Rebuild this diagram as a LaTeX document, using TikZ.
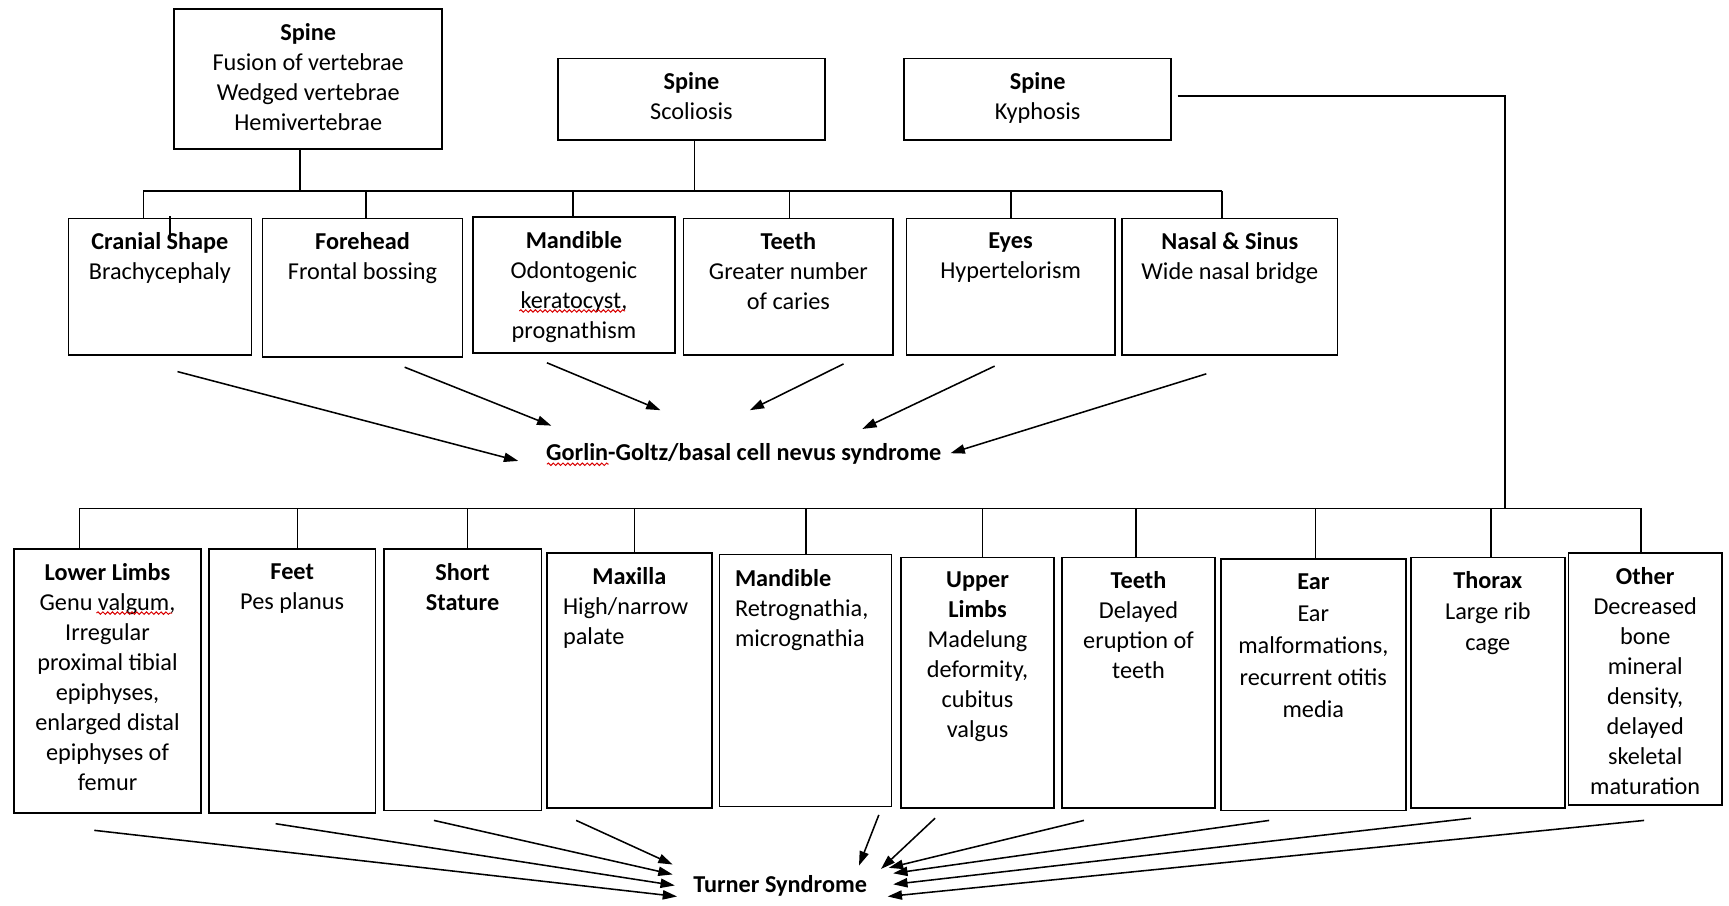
\documentclass[tikz,border=0pt]{standalone}
\usepackage{fontspec}
\setmainfont{Carlito}
\usetikzlibrary{arrows.meta,decorations.pathmorphing,fit}
\begin{document}
\begin{tikzpicture}[x=0.5pt,y=-0.5pt,
  box/.style={draw, line width=0.75pt, inner sep=0pt},
  txt/.style={align=center, inner sep=0pt, anchor=north, font=\fontsize{11}{13.6}\selectfont},
  ltxt/.style={align=left, inner sep=0pt, anchor=north west, font=\fontsize{11}{13.6}\selectfont},
  conn/.style={line width=0.7pt},
  arr/.style={line width=0.7pt, -{Triangle[length=6.5pt,width=4.2pt]}},
  squiggle/.style={red!85!black, line width=0.45pt, decorate,
    decoration={snake, amplitude=0.55pt, segment length=2.2pt}}]
\useasboundingbox (0,0) rectangle (1568,821);

% ---- spine boxes ----
\node[box, fit={(158,8)(401,135)}] (sp1) {};
\node[box, fit={(506,53)(748,127)}] (sp2) {};
\node[box, fit={(820,53)(1062,127)}] (sp3) {};
\node[txt] at ([yshift=-6.7pt]sp1.north) {\textbf{Spine}\\Fusion of vertebrae\\Wedged vertebrae\\Hemivertebrae};
\node[txt] at ([yshift=-6.7pt]sp2.north) {\textbf{Spine}\\Scoliosis};
\node[txt] at ([yshift=-6.7pt]sp3.north) {\textbf{Spine}\\Kyphosis};

% ---- craniofacial findings ----
\node[box, fit={(62,198)(228,322)}] (cra) {};
\node[box, fit={(238,198)(419.5,323.5)}] (fore) {};
\node[box, fit={(429,196.5)(612,320)}] (mand) {};
\node[box, fit={(620,198)(810,322)}] (teeth) {};
\node[box, fit={(822,198)(1011,322)}] (eyes) {};
\node[box, fit={(1017.5,198)(1213,322)}] (nasal) {};
\node[txt] at ([yshift=-6.7pt]cra.north) {\textbf{Cranial Shape}\\Brachycephaly};
\node[txt] at ([yshift=-6.7pt]fore.north) {\textbf{Forehead}\\Frontal bossing};
\node[txt] at ([yshift=-6.7pt]mand.north) {\textbf{Mandible}\\Odontogenic\\keratocyst,\\prognathism};
\node[txt] at ([yshift=-6.7pt]teeth.north) {\textbf{Teeth}\\Greater number\\of caries};
\node[txt] at ([yshift=-6.7pt]eyes.north) {\textbf{Eyes}\\Hypertelorism};
\node[txt] at ([yshift=-6.7pt]nasal.north) {\textbf{Nasal \& Sinus}\\Wide nasal bridge};

% upper bar and drops
\coordinate (u0) at (130,173);
\coordinate (u1) at (332,173);
\coordinate (u2) at (519.5,173);
\coordinate (u3) at (716,173);
\coordinate (u4) at (917,173);
\coordinate (u5) at (1108,173);
\coordinate (ua) at (272,173);
\coordinate (ub) at (630,173);
\coordinate (tk) at (154,196);
\draw[conn] (u0) -- (u5);
\draw[conn] (ua) -- (ua |- sp1.south);
\draw[conn] (ub) -- (ub |- sp2.south);
\draw[conn] (u0) -- (u0 |- cra.north);
\draw[conn] (u1) -- (u1 |- fore.north);
\draw[conn] (u2) -- (u2 |- mand.north);
\draw[conn] (u3) -- (u3 |- teeth.north);
\draw[conn] (u4) -- (u4 |- eyes.north);
\draw[conn] (u5) -- (u5 |- nasal.north);
\draw[conn] (tk) -- ++(0,20);

% Gorlin-Goltz target
\node[inner sep=0pt, font=\fontsize{11}{13.6}\selectfont\bfseries] (gor) at (674.5,411.5) {Gorlin-Goltz/basal cell nevus syndrome};
\coordinate (gs1) at (161,337);   \coordinate (ge1) at (470,418);
\coordinate (gs2) at (367,333);   \coordinate (ge2) at (500,386);
\coordinate (gs3) at (496,329);   \coordinate (ge3) at (599,372);
\coordinate (gs4) at (765,330);   \coordinate (ge4) at (680,372);
\coordinate (gs5) at (902,332);   \coordinate (ge5) at (782,389);
\coordinate (gs6) at (1094,339);  \coordinate (ge6) at (862,411);
\foreach \i in {1,...,6} \draw[arr] (gs\i) -- (ge\i);

% ---- Turner syndrome findings ----
\node[box, fit={(12.5,498)(182.5,737)}] (ll) {};
\node[box, fit={(189.5,498)(340.5,737)}] (feet) {};
\node[box, fit={(348,498)(491,735)}] (short) {};
\node[box, fit={(496,501.5)(645.5,733)}] (max) {};
\node[box, fit={(652.5,503)(808.5,731.5)}] (mand2) {};
\node[box, fit={(817,505.5)(956,733)}] (upper) {};
\node[box, fit={(963,505.5)(1102,733)}] (teeth2) {};
\node[box, fit={(1107,507)(1275,735)}] (ear) {};
\node[box, fit={(1279.5,505.5)(1419,733)}] (thorax) {};
\node[box, fit={(1422.5,501.5)(1561.5,730)}] (other) {};

\node[txt] at ([yshift=-6.7pt]ll.north) {\textbf{Lower Limbs}\\Genu valgum,\\Irregular\\proximal tibial\\epiphyses,\\enlarged distal\\epiphyses of\\femur};
\node[txt] at ([yshift=-6.7pt]feet.north) {\textbf{Feet}\\Pes planus};
\node[txt] at ([yshift=-6.7pt]short.north) {\textbf{Short}\\\textbf{Stature}};
\node[txt] at ([yshift=-6.7pt]max.north) {\textbf{Maxilla}};
\node[ltxt] at ([xshift=7.5pt,yshift=-20.6pt]max.north west) {High/narrow\\palate};
\node[ltxt] at ([xshift=7.2pt,yshift=-6.7pt]mand2.north west) {\textbf{Mandible}\\Retrognathia,\\micrognathia};
\node[txt] at ([yshift=-6.7pt]upper.north) {\textbf{Upper}\\\textbf{Limbs}\\Madelung\\deformity,\\cubitus\\valgus};
\node[txt] at ([yshift=-6.7pt]teeth2.north) {\textbf{Teeth}\\Delayed\\eruption of\\teeth};
\node[txt, font=\fontsize{11}{14.5}\selectfont] at ([yshift=-6.7pt]ear.north) {\textbf{Ear}\\Ear\\malformations,\\recurrent otitis\\media};
\node[txt, font=\fontsize{11}{14}\selectfont] at ([yshift=-6.7pt]thorax.north) {\textbf{Thorax}\\Large rib\\cage};
\node[txt] at ([yshift=-6.7pt]other.north) {\textbf{Other}\\Decreased\\bone\\mineral\\density,\\delayed\\skeletal\\maturation};

% Kyphosis branch and lower bar
\coordinate (k0) at (1068,87);
\coordinate (k1) at (1365,87);
\coordinate (k2) at (1365,461);
\draw[conn] (k0) -- (k1) -- (k2);
\coordinate (l0) at (72,461);
\coordinate (l1) at (270,461);
\coordinate (l2) at (424,461);
\coordinate (l3) at (575.5,461);
\coordinate (l4) at (731,461);
\coordinate (l5) at (891,461);
\coordinate (l6) at (1030,461);
\coordinate (l7) at (1193,461);
\coordinate (l8) at (1352,461);
\coordinate (l9) at (1488,461);
\draw[conn] (l0) -- (l9);
\draw[conn] (l0) -- (l0 |- ll.north);
\draw[conn] (l1) -- (l1 |- feet.north);
\draw[conn] (l2) -- (l2 |- short.north);
\draw[conn] (l3) -- (l3 |- max.north);
\draw[conn] (l4) -- (l4 |- mand2.north);
\draw[conn] (l5) -- (l5 |- upper.north);
\draw[conn] (l6) -- (l6 |- teeth2.north);
\draw[conn] (l7) -- (l7 |- ear.north);
\draw[conn] (l8) -- (l8 |- thorax.north);
\draw[conn] (l9) -- (l9 |- other.north);

% Turner syndrome target
\node[inner sep=0pt, font=\fontsize{11}{13.6}\selectfont\bfseries] (turner) at (707.5,803.5) {Turner Syndrome};
\coordinate (ts1) at (85.5,753);   \coordinate (te1) at (614,813);
\coordinate (ts2) at (250,747);    \coordinate (te2) at (612,803);
\coordinate (ts3) at (393.5,744);  \coordinate (te3) at (610,793);
\coordinate (ts4) at (522.5,744);  \coordinate (te4) at (610,784);
\coordinate (ts5) at (797,739);    \coordinate (te5) at (779,785);
\coordinate (ts6) at (848,742);    \coordinate (te6) at (799,788);
\coordinate (ts7) at (983,744);    \coordinate (te7) at (806,787);
\coordinate (ts8) at (1151,744);   \coordinate (te8) at (810,792);
\coordinate (ts9) at (1334,742);   \coordinate (te9) at (810,802);
\coordinate (ts10) at (1491,744);  \coordinate (te10) at (805,813);
\foreach \i in {1,...,10} \draw[arr] (ts\i) -- (te\i);

% spell-check marks
\draw[squiggle] (496,421) -- (552,421);
\draw[squiggle] (471,282) -- (567,282);
\draw[squiggle] (87.5,556) -- (156,556);
\end{tikzpicture}
\end{document}
